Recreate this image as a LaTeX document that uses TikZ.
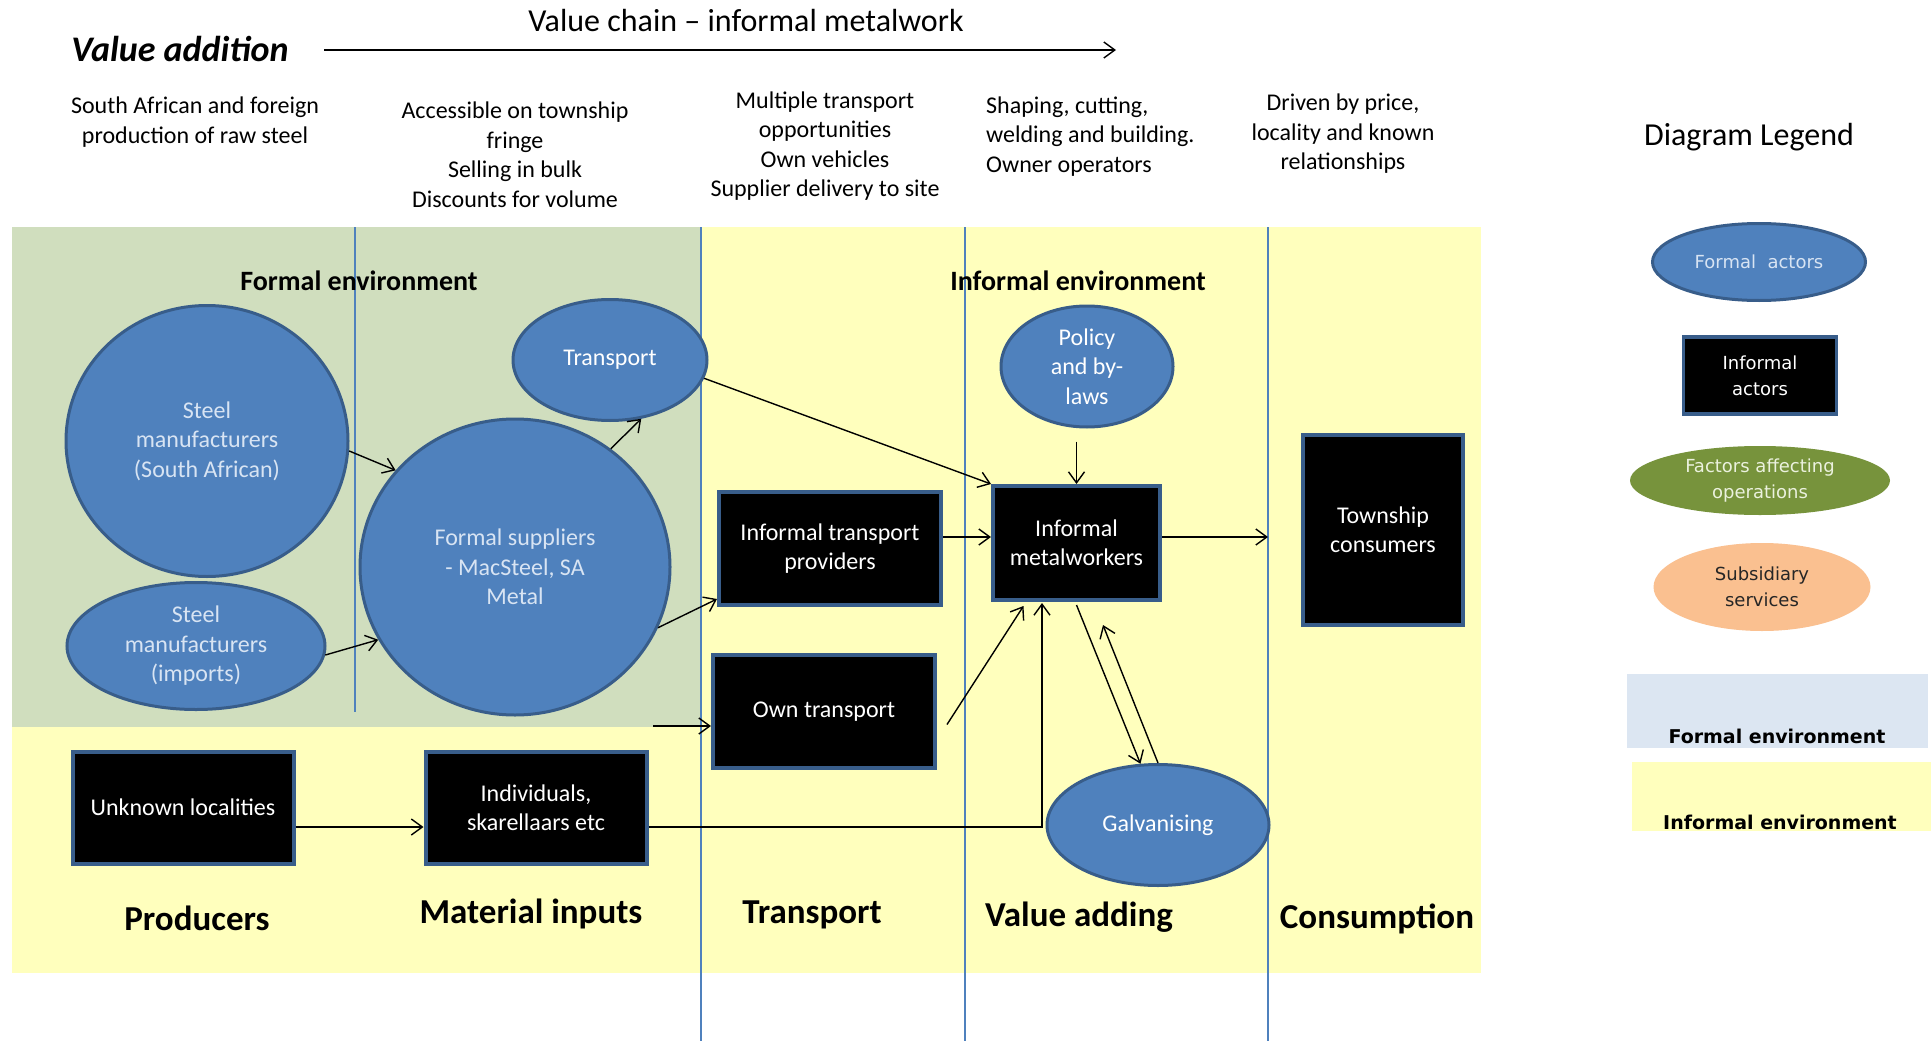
\documentclass[tikz,border=0pt]{standalone}
\usepackage{fontspec}
\setmainfont{Carlito}
\newfontfamily\legendfont{DejaVu Sans}
\usetikzlibrary{shapes.geometric,arrows.meta,calc}

\definecolor{formalbg}{RGB}{208,222,190}
\definecolor{informalbg}{RGB}{255,255,189}
\definecolor{actorblue}{RGB}{79,129,189}
\definecolor{actorrim}{RGB}{56,93,138}
\definecolor{paletext}{RGB}{216,228,243}
\definecolor{factorgreen}{RGB}{119,147,60}
\definecolor{factortext}{RGB}{235,241,222}
\definecolor{servicepeach}{RGB}{250,192,144}
\definecolor{legendblue}{RGB}{220,230,242}
\definecolor{lanecolor}{RGB}{79,129,189}

\newcommand{\pxfont}[2]{\fontsize{#1}{#2}\selectfont}

\tikzset{
  formalactor/.style={ellipse, fill=actorblue, draw=actorrim, line width=3pt,
    inner sep=0pt, align=center, text=paletext, font=\pxfont{24}{29.5}},
  informalactor/.style={rectangle, fill=black, draw=actorrim, line width=4pt,
    inner sep=0pt, align=center, text=white, font=\pxfont{24}{29}},
  arr/.style={-{Straight Barb[length=11pt,width=16pt]}, line width=1.4pt, black},
  lane/.style={draw=lanecolor, line width=1.3pt},
  colnote/.style={align=center, font=\pxfont{24}{29.5}, inner sep=0pt},
  stage/.style={font=\bfseries\pxfont{35}{40}, inner sep=0pt, anchor=base},
  envtitle/.style={font=\bfseries\pxfont{28}{32}, inner sep=0pt, anchor=base},
  legendtext/.style={font=\legendfont\pxfont{18}{26}, align=center, inner sep=0pt},
  legendenv/.style={font=\legendfont\bfseries\pxfont{19}{23}, inner sep=0pt, anchor=base},
}

\begin{document}
\begin{tikzpicture}[x=1pt,y=-1pt]
\useasboundingbox (0,0) rectangle (1931,1041);
\fill[white] (0,0) rectangle (1931,1041);

% environment bands
\fill[informalbg] (12,227) rectangle (1481,973);
\fill[formalbg] (12,227) rectangle (701,727);

% lane separators
\draw[lane] (355,227) -- (355,712);
\draw[lane] (701,227) -- (701,1041);
\draw[lane] (965,227) -- (965,1041);
\draw[lane] (1268,227) -- (1268,1041);

% heading and value chain arrow
\node[font=\pxfont{32}{36}, inner sep=0pt, anchor=base] (title) at (746,32) {Value chain -- informal metalwork};
\node[font=\bfseries\itshape\pxfont{36}{40}, inner sep=0pt, anchor=base] (valadd) at (180,62) {Value addition};
\coordinate (chainstart) at (324,50);
\coordinate (chainend) at (1116,50);
\draw[arr] (chainstart) -- (chainend);

% column notes
\node[colnote] (note1) at (195,122) {South African and foreign\\production of raw steel};
\node[colnote] (note2) at (515,155) {Accessible on township\\fringe\\Selling in bulk\\Discounts for volume};
\node[colnote] (note3) at (825,146) {Multiple transport\\opportunities\\Own vehicles\\Supplier delivery to site};
\node[colnote, align=left, anchor=west] (note4) at (986,136.5) {Shaping, cutting,\\welding and building.\\Owner operators};
\node[colnote] (note5) at (1343,134) {Driven by price,\\locality and known\\relationships};

% environment titles
\node[envtitle] (formaltitle) at (359,290) {Formal environment};
\node[envtitle] (informaltitle) at (1078,290) {Informal environment};

% formal actors
\node[formalactor, minimum width=282pt, minimum height=271pt] (sa) at (207,441) {Steel\\manufacturers\\(South African)};
\node[formalactor, minimum width=258pt, minimum height=127pt] (imp) at (196,646) {Steel\\manufacturers\\(imports)};
\node[formalactor, minimum width=310pt, minimum height=296pt] (fs) at (515,567) {Formal suppliers\\- MacSteel, SA\\Metal};
\node[formalactor, minimum width=194pt, minimum height=121pt, text=white] (tr) at (610,360) {Transport};
\node[formalactor, minimum width=172pt, minimum height=121pt, text=white] (pol) at (1087,366.5) {Policy\\and by-\\laws};
\node[formalactor, minimum width=222pt, minimum height=121pt, text=white] (galv) at (1158,825) {Galvanising};

% informal actors
\node[informalactor, minimum width=222pt, minimum height=113pt] (itp) at (830,548.5) {Informal transport\\providers};
\node[informalactor, minimum width=222pt, minimum height=113pt] (own) at (824,711.5) {Own transport};
\node[informalactor, minimum width=167pt, minimum height=114pt] (imw) at (1076.5,543) {Informal\\metalworkers};
\node[informalactor, minimum width=160pt, minimum height=190pt] (tc) at (1383,530) {Township\\consumers};
\node[informalactor, minimum width=221pt, minimum height=112pt] (unk) at (183,807.5) {Unknown localities};
\node[informalactor, minimum width=221pt, minimum height=112pt] (ind) at (536,808) {Individuals,\\skarellaars etc};

% stage labels
\node[stage] (lprod) at (197,930) {Producers};
\node[stage] (lmat) at (531,923) {Material inputs};
\node[stage] (ltrans) at (812,923) {Transport};
\node[stage] (lvalue) at (1079,926) {Value adding};
\node[stage] (lcons) at (1377,928) {Consumption};

% flows
\coordinate (row537) at (0,537);
\coordinate (row827) at (0,827);
\coordinate (greenedge) at (653,726);

\draw[arr] (sa.-4) -- (fs.141);
\draw[arr] (imp.-4) -- (fs.208);
\draw[arr] (fs.51) -- (tr.-62);
\draw[arr] (fs.-23) -- ([yshift=8pt]itp.south west);
\draw[arr] (greenedge) -- (own.west |- greenedge);
\draw[arr] (tr.-11) -- (imw.north west);
\draw[arr] (itp.east |- row537) -- (imw.west |- row537);
\draw[arr, shorten <=13pt] (imw.north |- pol.south) -- (imw.north);
\draw[arr, shorten >=33pt] (imw.east |- row537) -- (tc.west |- row537);
\draw[arr] ([shift={(10pt,-13pt)}]own.east) -- ([shift={(-53pt,-4pt)}]imw.south);
\draw[arr] (unk.east |- row827) -- (ind.west |- row827);
\draw[arr] (ind.east |- row827) -| ([shift={(-34.5pt,-1pt)}]imw.south);
\draw[arr] ([yshift=-3pt]imw.south) -- (galv.106);
\draw[arr] (galv.north) -- ([shift={(26.5pt,-23pt)}]imw.south);

% legend
\node[font=\pxfont{32}{36}, inner sep=0pt, anchor=base] (legtitle) at (1749,145) {Diagram Legend};
\node[ellipse, fill=actorblue, draw=actorrim, line width=3pt, minimum width=213pt, minimum height=77pt,
      legendtext, text=paletext] (legformal) at (1759,262) {Formal~~actors};
\node[rectangle, fill=black, draw=actorrim, line width=3.5pt, minimum width=153pt, minimum height=77pt,
      legendtext, text=white] (leginformal) at (1760,375.5) {Informal\\actors};
\node[ellipse, fill=factorgreen, minimum width=260pt, minimum height=69pt,
      legendtext, text=factortext] (legfactor) at (1760,480.5) {Factors affecting\\operations};
\node[ellipse, fill=servicepeach, minimum width=217pt, minimum height=88pt,
      legendtext, text=black!85] (legservice) at (1762,587) {Subsidiary\\services};
\fill[legendblue] (1627,674) rectangle (1928,748);
\node[legendenv] (legfenv) at (1777,743) {Formal environment};
\fill[informalbg] (1632,762) rectangle (1931,831);
\node[legendenv] (legienv) at (1780,829) {Informal environment};
\end{tikzpicture}
\end{document}
